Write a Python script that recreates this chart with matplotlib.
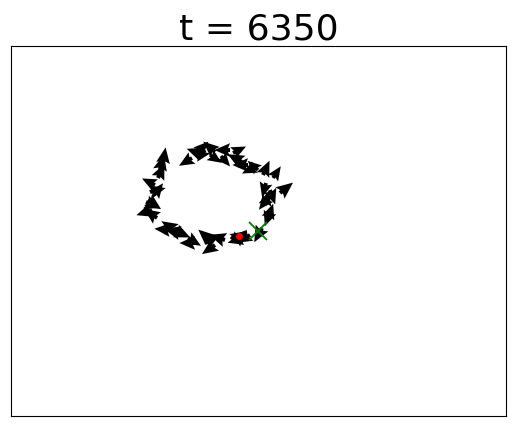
import numpy as np
import matplotlib
matplotlib.use("Agg")
import matplotlib.pyplot as plt

# agent positions (data units) and heading vectors
x = [181, 187, 194, 199, 204, 219, 222, 190, 210,
     231, 237, 247, 252, 255, 259, 269, 257, 254, 259, 257, 251, 244, 262,
     239, 234, 224, 214, 204, 194, 184, 177, 169, 159, 152, 199, 220, 165,
     146, 141, 137, 139, 144, 147, 149, 152, 135, 143]
y = [258, 264, 266, 261, 264, 266, 263, 262, 260,
     254, 251, 246, 241, 233, 226, 223, 218, 211, 204, 198, 188, 249, 238,
     181, 178, 174, 176, 171, 173, 173, 178, 183, 186, 188, 176, 179, 185,
     198, 206, 216, 224, 231, 238, 246, 253, 214, 221]
u = [-10, 8, -6, 9, -9, -12, 10, -11, 7,
     -11, -12, -8, 5, -3, 4, 10, -7, 3, -4, 4, -6, -10, 6,
     -10, -12, 8, -12, -10, 11, -12, 10, -12, -12, 12, -9, 10, 11,
     -10, -12, 10, 12, -10, 5, 3, 2, 11, 7]
v = [-6, 8, -9, -6, 8, 0, 5, 4, -8,
     6, 0, 7, 11, -11, -11, 8, -9, 11, -11, 11, -11, -5, 9,
     -6, 3, 9, 4, -7, 6, 0, -6, 3, 1, 3, 8, -6, -5,
     7, -4, -7, 3, 5, 11, 12, 12, -5, 9]

leader_x = [228]
leader_y = [180]
target_x = [247]
target_y = [185]

fig = plt.figure(figsize=(5.15, 4.26), dpi=100)
ax = fig.add_axes([11/515, 10/426, 495/515, 370/426])
ax.quiver(x, y, np.array(u) * 1.3, np.array(v) * 1.3, angles='xy',
          scale_units='xy', scale=1,
          width=0.011, headwidth=3.5, headlength=4, headaxislength=3.5,
          color='black')
ax.plot(leader_x, leader_y, 'o', color='red', markersize=4)
ax.plot(target_x, target_y, 'x', color='green', markersize=13, markeredgewidth=1.3)
ax.set_xlim(0, 495)
ax.set_ylim(0, 370)
ax.set_xticks([])
ax.set_yticks([])
ax.set_title("t = 6350", fontsize=26, pad=4)
fig.savefig("out.png", dpi=100)
